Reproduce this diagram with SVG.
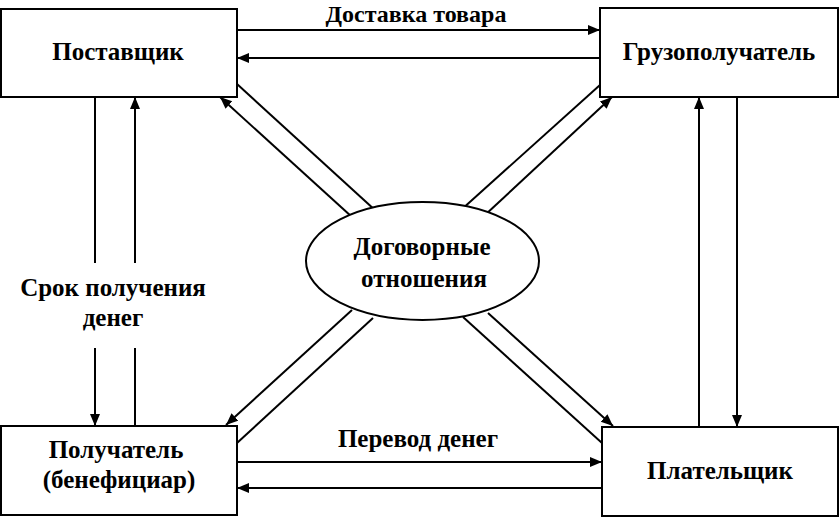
<svg xmlns="http://www.w3.org/2000/svg" width="839" height="517" viewBox="0 0 839 517">
<style>
.box{fill:#fff;stroke:#000;stroke-width:2}
.ln{fill:none;stroke:#000;stroke-width:2}
.ar{fill:none;stroke:#000;stroke-width:2;marker-end:url(#ah)}
text{font-family:"Liberation Serif","Times New Roman",serif;font-weight:bold;font-size:25px;fill:#000;text-anchor:middle}
.top{font-size:24px}
</style>
<defs>
<marker id="ah" markerUnits="userSpaceOnUse" markerWidth="13" markerHeight="11" refX="12" refY="5" orient="auto">
<path d="M0,0 L12,5 L0,10 z" fill="#000"/>
</marker>
</defs>
<rect width="839" height="517" fill="#fff"/>
<g id="connectors">
<line class="ar" x1="237" y1="30" x2="600" y2="30"/>
<line class="ar" x1="600" y1="58" x2="237" y2="58"/>
<line class="ar" x1="237" y1="462" x2="602" y2="462"/>
<line class="ar" x1="602" y1="488" x2="237" y2="488"/>
<line class="ln" x1="95" y1="97" x2="95" y2="263"/>
<line class="ar" x1="95" y1="348" x2="95" y2="426"/>
<line class="ln" x1="135" y1="426" x2="135" y2="348"/>
<line class="ar" x1="135" y1="263" x2="135" y2="97"/>
<line class="ar" x1="699" y1="427" x2="699" y2="97"/>
<line class="ar" x1="737" y1="97" x2="737" y2="427"/>
<line class="ln" x1="237" y1="84" x2="376" y2="211"/>
<line class="ar" x1="352" y1="217" x2="220" y2="97"/>
<line class="ln" x1="461" y1="210" x2="600" y2="85"/>
<line class="ar" x1="485" y1="215" x2="612" y2="97"/>
<line class="ar" x1="352" y1="310" x2="226" y2="425"/>
<line class="ln" x1="373" y1="318" x2="237" y2="443"/>
<line class="ln" x1="463" y1="317" x2="602" y2="443"/>
<line class="ar" x1="488" y1="313" x2="613" y2="426"/>
<text class="top" x="416" y="22">Доставка товара</text>
<text x="113" y="296">Срок получения</text>
<text x="113" y="326">денег</text>
<text x="418" y="447">Перевод денег</text>
</g>
<g id="supplier">
<rect class="box" x="1" y="9" width="236" height="88"/>
<text x="118" y="60">Поставщик</text>
</g>
<g id="consignee">
<rect class="box" x="600" y="8" width="238" height="89"/>
<text x="719" y="60">Грузополучатель</text>
</g>
<g id="beneficiary">
<rect class="box" x="1" y="426" width="236" height="89"/>
<text x="116" y="458">Получатель</text>
<text x="119" y="488">(бенефициар)</text>
</g>
<g id="payer">
<rect class="box" x="602" y="427" width="236" height="89"/>
<text x="720" y="479">Плательщик</text>
</g>
<g id="contract">
<ellipse class="box" cx="422.5" cy="261" rx="116.5" ry="59"/>
<text x="422" y="255">Договорные</text>
<text x="424" y="287">отношения</text>
</g>
</svg>
